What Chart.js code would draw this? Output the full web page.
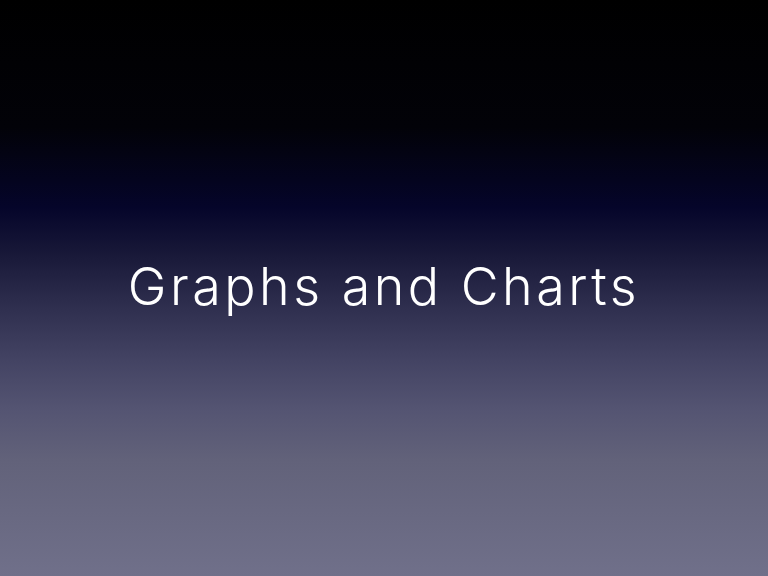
<!DOCTYPE html>
<html>
<head>
<meta charset="utf-8">
<script src="https://cdn.jsdelivr.net/npm/chart.js@4/dist/chart.umd.min.js"></script>
<style>
html, body { margin: 0; padding: 0; background: #000; }
#wrap { width: 768px; height: 576px; position: relative; }
</style>
</head>
<body>
<div id="wrap"><canvas id="c" width="768" height="576"></canvas></div>
<script>
// This slide is a title slide: no data marks are shown.
const titleText = "Graphs and Charts";
const categories = [];
const seriesValues = [];

const gradientStops = [
  [0.00, "#000000"],
  [0.22, "#020208"],
  [0.36, "#05052a"],
  [0.44, "#181838"],
  [0.53, "#2e2e4e"],
  [0.62, "#424262"],
  [0.71, "#545472"],
  [0.80, "#62627a"],
  [1.00, "#70708a"]
];

const bgPlugin = {
  id: "bgGradient",
  beforeDraw(chart) {
    const ctx = chart.ctx;
    const g = ctx.createLinearGradient(0, 0, 0, chart.height);
    gradientStops.forEach(s => g.addColorStop(s[0], s[1]));
    ctx.save();
    ctx.fillStyle = g;
    ctx.fillRect(0, 0, chart.width, chart.height);
    ctx.restore();
    ctx.letterSpacing = "3.5px";
  },
  afterDraw(chart) {
    chart.ctx.letterSpacing = "0px";
  }
};

new Chart(document.getElementById("c"), {
  type: "bar",
  data: { labels: categories, datasets: [{ data: seriesValues }] },
  options: {
    responsive: false,
    animation: false,
    events: [],
    layout: { padding: 0 },
    scales: { x: { display: false }, y: { display: false } },
    plugins: {
      legend: { display: false },
      tooltip: { enabled: false },
      title: {
        display: true,
        text: titleText,
        color: "#ffffff",
        font: { family: "Inter, 'Helvetica Neue', Arial, sans-serif", size: 52, weight: 300 },
        padding: { top: 258, bottom: 0 }
      }
    }
  },
  plugins: [bgPlugin]
});
</script>
</body>
</html>
